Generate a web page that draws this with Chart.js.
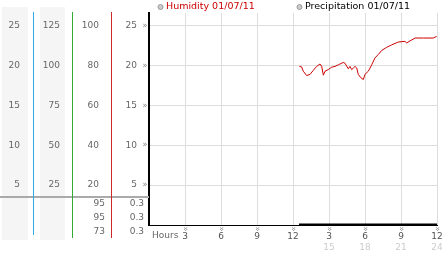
<!DOCTYPE html>
<html>
<head>
<meta charset="utf-8">
<script src="https://cdn.jsdelivr.net/npm/chart.js@4"></script>
<style>
    html, body { margin: 0; padding: 0; background: #fff; }
    #wrap { width: 442px; height: 253px; }
</style>
</head>
<body>
<div id="wrap"><canvas id="weatherChart" width="442" height="253"></canvas></div>
<script>
// 時刻（0〜24時）と湿度の値
const hours = [12.53, 12.72, 12.86, 13.14, 13.42, 13.69, 13.97, 14.25, 14.39, 14.53,
               14.67, 14.94, 15.22, 15.5, 15.78, 16.19, 16.33, 16.61, 16.75, 16.89,
               17.03, 17.17, 17.31, 17.44, 17.64, 17.86, 18.0, 18.28, 18.56, 18.83,
               19.11, 19.39, 19.81, 20.22, 20.78, 21.33, 21.47, 21.75, 22.17, 22.86,
               23.69, 23.97];
const humidity = [19.9, 19.84, 19.29, 18.75, 18.9, 19.4, 19.9, 20.2, 19.9, 18.8,
                  19.3, 19.5, 19.8, 19.9, 20.1, 20.4, 20.3, 19.6, 19.9, 19.5,
                  19.7, 19.9, 19.7, 18.9, 18.5, 18.25, 18.9, 19.3, 20.1, 20.96,
                  21.4, 21.9, 22.3, 22.6, 22.96, 23.04, 22.84, 23.1, 23.46, 23.46,
                  23.46, 23.66];

// 降水量（ずっと0）
const precipHours  = [12.5, 24];
const precipValues = [0, 0];

// 凡例のラベル
const seriesLabels = ['Humidity 01/07/11', 'Precipitation 01/07/11'];

// 目盛り
const xTicks     = [3, 6, 9, 12, 15, 18, 21, 24];
const secondRow  = ['', '', '', '', '15', '18', '21', '24'];

// 左下の表の値
const colCValues = ['95', '95', '73'];
const colDValues = ['0.3', '0.3', '0.3'];

const FONT = 'DejaVu Sans';
Chart.defaults.font.family = FONT;
Chart.defaults.font.size = 9;
Chart.defaults.color = '#666';

// stepの倍数（0以外）だけ残す
function keepSteps(step) {
    return function(axis) {
        axis.ticks = axis.ticks.filter(function(t) {
            return t.value > 0 && Math.abs(t.value / step - Math.round(t.value / step)) < 1e-6;
        });
    };
}

function fixWidth(w) {
    return function(axis) {
        axis.width = w;
        axis.paddingTop = 0;
        axis.paddingBottom = 0;
    };
}

// 背景や飾りを描くプラグイン
const decorPlugin = {
    id: 'decor',
    beforeDraw: function(chart) {
        const ctx = chart.ctx;
        ctx.save();
        ctx.fillStyle = '#f5f5f5';
        ctx.fillRect(2, 7, 26, 233);
        ctx.fillRect(40, 7, 25, 233);
        ctx.restore();
    },
    afterDraw: function(chart) {
        const ctx = chart.ctx;
        const x = chart.scales.x;
        const y = chart.scales.y;
        ctx.save();

        // 灰色の横線
        ctx.strokeStyle = '#aaaaaa';
        ctx.lineWidth = 2;
        ctx.beginPath();
        ctx.moveTo(0, 197);
        ctx.lineTo(chart.chartArea.left, 197);
        ctx.stroke();

        // 左の色付き縦線
        ctx.lineWidth = 1;
        [['#33aadd', 33.5, 235], ['#33aa33', 72.5, 238], ['#cc2a2a', 111.5, 238]].forEach(function(l) {
            ctx.strokeStyle = l[0];
            ctx.beginPath();
            ctx.moveTo(l[1], 12);
            ctx.lineTo(l[1], l[2]);
            ctx.stroke();
        });

        // 表の値
        ctx.font = '9px ' + FONT;
        ctx.fillStyle = '#666';
        ctx.textAlign = 'right';
        ctx.textBaseline = 'middle';
        const rowY = [204, 218, 232];
        colCValues.forEach(function(v, i) { ctx.fillText(v, 105, rowY[i]); });
        colDValues.forEach(function(v, i) { ctx.fillText(v, 144, rowY[i]); });

        // Hours
        ctx.textAlign = 'left';
        ctx.fillText('Hours', 152, 236);

        // 目盛りの小さい印
        ctx.font = '8px ' + FONT;
        ctx.fillStyle = '#888';
        ctx.textAlign = 'center';
        y.ticks.forEach(function(t) {
            ctx.fillText('»', 145, y.getPixelForValue(t.value));
        });
        xTicks.forEach(function(v, i) {
            const px = x.getPixelForValue(v);
            ctx.save();
            ctx.translate(px, 229);
            ctx.rotate(Math.PI / 2);
            ctx.fillText('»', 0, 0);
            ctx.restore();
            // 2段目のラベル
            if (secondRow[i]) {
                ctx.save();
                ctx.font = '9px ' + FONT;
                ctx.fillStyle = '#cccccc';
                ctx.fillText(secondRow[i], px, 248);
                ctx.restore();
            }
        });

        // 凡例
        const legendX = [160.5, 299.5];
        const colors = ['#cc0000', '#000000'];
        ctx.font = '9.5px ' + FONT;
        ctx.textAlign = 'left';
        seriesLabels.forEach(function(label, i) {
            ctx.beginPath();
            ctx.arc(legendX[i], 7, 2.5, 0, Math.PI * 2);
            ctx.fillStyle = '#cccccc';
            ctx.fill();
            ctx.strokeStyle = '#999999';
            ctx.lineWidth = 1;
            ctx.stroke();
            ctx.fillStyle = colors[i];
            ctx.fillText(label, legendX[i] + 5.5, 7);
        });

        ctx.restore();
    }
};

const ctx = document.getElementById('weatherChart').getContext('2d');
const chart = new Chart(ctx, {
    type: 'line',
    data: {
        datasets: [
            {
                label: seriesLabels[0],
                data: hours.map(function(h, i) { return { x: h, y: humidity[i] }; }),
                borderColor: '#cc0000',
                borderWidth: 1,
                pointRadius: 0,
                tension: 0,
                xAxisID: 'x',
                yAxisID: 'y'
            },
            {
                label: seriesLabels[1],
                data: precipHours.map(function(h, i) { return { x: h, y: precipValues[i] }; }),
                borderColor: '#000000',
                borderWidth: 3,
                pointRadius: 0,
                xAxisID: 'x',
                yAxisID: 'y'
            }
        ]
    },
    options: {
        responsive: false,
        animation: false,
        layout: { padding: { top: 13, right: 5, left: 0, bottom: 0 } },
        plugins: {
            legend: { display: false },
            tooltip: { enabled: false }
        },
        scales: {
            x: {
                type: 'linear',
                position: 'bottom',
                min: 0,
                max: 24,
                ticks: {
                    stepSize: 3,
                    padding: 6,
                    maxRotation: 0,
                    autoSkip: false,
                    color: '#555',
                    callback: function(v) {
                        if (v === 0) return '';
                        return String(v > 12 ? v - 12 : v);
                    }
                },
                grid: { color: '#dddddd', drawTicks: false },
                border: { color: '#000', width: 1 },
                afterFit: function(axis) {
                    axis.height = 28;
                    axis.paddingLeft = 0;
                    axis.paddingRight = 0;
                }
            },
            y: {
                position: 'left',
                weight: 0,
                min: 0,
                max: 26.6,
                ticks: { stepSize: 5, padding: 12 },
                grid: { color: '#dddddd', drawTicks: false },
                border: { color: '#000', width: 2 },
                afterBuildTicks: keepSteps(5),
                afterFit: fixWidth(38)
            },
            yC: {
                position: 'left',
                weight: 1,
                min: 0,
                max: 106.4,
                ticks: { stepSize: 20, padding: 12 },
                grid: { display: false, drawTicks: false },
                border: { display: false },
                afterBuildTicks: keepSteps(20),
                afterFit: fixWidth(39)
            },
            yB: {
                position: 'left',
                weight: 2,
                min: 0,
                max: 133,
                ticks: { stepSize: 25, padding: 12 },
                grid: { display: false, drawTicks: false },
                border: { display: false },
                afterBuildTicks: keepSteps(25),
                afterFit: fixWidth(39)
            },
            yA: {
                position: 'left',
                weight: 3,
                min: 0,
                max: 26.6,
                ticks: { stepSize: 5, padding: 13 },
                grid: { display: false, drawTicks: false },
                border: { display: false },
                afterBuildTicks: keepSteps(5),
                afterFit: fixWidth(33)
            }
        }
    },
    plugins: [decorPlugin]
});
</script>
</body>
</html>
